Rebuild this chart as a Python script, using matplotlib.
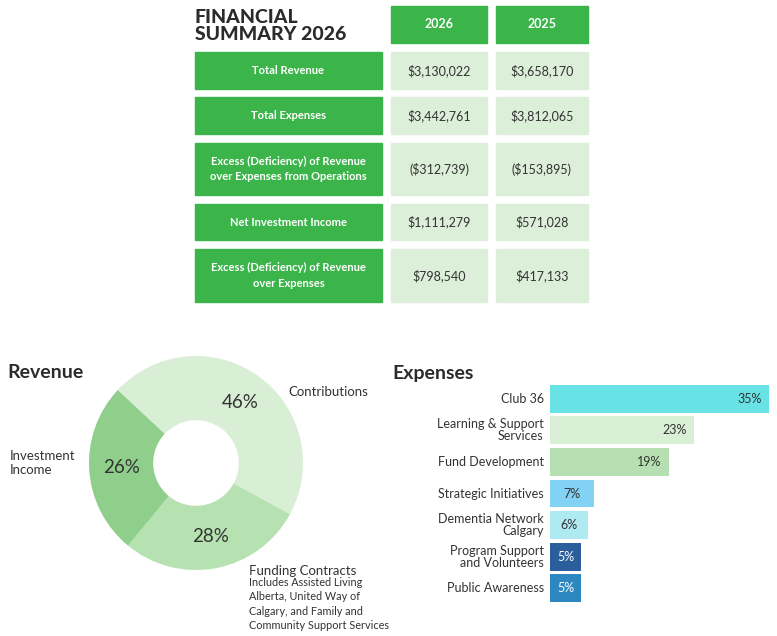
import matplotlib.pyplot as plt
import numpy as np
from matplotlib.patches import Rectangle

plt.rcParams['font.family'] = ['Lato', 'DejaVu Sans']

# data
years = ['2026', '2025']
row_labels = ['Total Revenue', 'Total Expenses',
              'Excess (Deficiency) of Revenue\nover Expenses from Operations',
              'Net Investment Income',
              'Excess (Deficiency) of Revenue\nover Expenses']
vals_2026 = ['$3,130,022', '$3,442,761', '($312,739)', '$1,111,279', '$798,540']
vals_2025 = ['$3,658,170', '$3,812,065', '($153,895)', '$571,028', '$417,133']

rev_labels = ['Contributions', 'Funding Contracts', 'Investment\nIncome']
rev_values = [46, 28, 26]
rev_colors = ['#d9efd5', '#b6e1b0', '#90cf8b']

exp_labels = ['Club 36', 'Learning & Support\nServices', 'Fund Development',
              'Strategic Initiatives', 'Dementia Network\nCalgary',
              'Program Support\nand Volunteers', 'Public Awareness']
exp_values = [35, 23, 19, 7, 6, 5, 5]
exp_colors = ['#68e2e4', '#d9efd6', '#b6e0b1', '#82d2f6', '#afe9f1', '#2b5e9c', '#2d87c0']
exp_text = ['#333333'] * 5 + ['white', 'white']

W, H = 777, 636
fig = plt.figure(figsize=(W / 100, H / 100), dpi=100)
green = '#3bb54a'
pale = '#dcefd9'

# table in pixel coordinates
tab = fig.add_axes([0, 0, 1, 1])
tab.set_xlim(0, W)
tab.set_ylim(H, 0)
tab.axis('off')
cols = [(195, 382), (391, 487), (496, 588)]
rows = [(52, 89), (97, 134), (143, 195), (204, 240), (249, 302)]
tab.text(195, 26, 'FINANCIAL\nSUMMARY 2026', fontsize=14, fontweight='black',
         color='#2b2b2b', va='center', ha='left', linespacing=1.0)
for (x0, x1), yr in zip(cols[1:], years):
    tab.add_patch(Rectangle((x0, 6), x1 - x0, 37, color=green))
    tab.text((x0 + x1) / 2, 24.5, yr, color='white', fontsize=9,
             fontweight='bold', ha='center', va='center')
for (y0, y1), lab, a, b in zip(rows, row_labels, vals_2026, vals_2025):
    yc = (y0 + y1) / 2
    tab.add_patch(Rectangle((cols[0][0], y0), cols[0][1] - cols[0][0], y1 - y0, color=green))
    tab.text((cols[0][0] + cols[0][1]) / 2, yc, lab, color='white', fontsize=8,
             fontweight='bold', ha='center', va='center', linespacing=1.45)
    for (x0, x1), v in zip(cols[1:], [a, b]):
        tab.add_patch(Rectangle((x0, y0), x1 - x0, y1 - y0, color=pale))
        tab.text((x0 + x1) / 2, yc, v, color='#333333', fontsize=9,
                 ha='center', va='center')

tab.text(7, 373, 'Revenue', fontsize=14, fontweight='bold', color='#2b2b2b', va='center')
tab.text(392, 373, 'Expenses', fontsize=14, fontweight='bold', color='#2b2b2b', va='center')

# donut
cx, cy, r = 196, 463, 107
pie = fig.add_axes([(cx - r) / W, 1 - (cy + r) / H, 2 * r / W, 2 * r / H])
wedges, _ = pie.pie(rev_values, colors=rev_colors, startangle=137, counterclock=False,
                    radius=1.0, wedgeprops=dict(width=0.6, edgecolor='none'))
pie.set_xlim(-1, 1)
pie.set_ylim(-1, 1)
pie.set_aspect('equal')
for w, v in zip(wedges, rev_values):
    ang = np.deg2rad((w.theta1 + w.theta2) / 2)
    pie.text(0.7 * np.cos(ang), 0.7 * np.sin(ang), f'{v}%', ha='center', va='center',
             fontsize=13.5, color='#333333')
tab.text(288, 392, 'Contributions', fontsize=9.5, color='#333333', va='center')
tab.text(249, 571, 'Funding Contracts', fontsize=9.5, color='#333333', va='center')
tab.text(249, 604, 'Includes Assisted Living\nAlberta, United Way of\nCalgary, and Family and\nCommunity Support Services',
         fontsize=7.8, color='#333333', va='center', linespacing=1.4)
tab.text(10, 463, 'Investment\nIncome', fontsize=9.5, color='#333333', va='center')

# bars
bx = fig.add_axes([550 / W, 1 - 604 / H, 219 / W, 221 / H])
ypos = list(range(len(exp_values)))
bx.barh(ypos, exp_values, height=0.88, color=exp_colors)
bx.set_xlim(0, 35)
bx.set_ylim(6.5, -0.5)
bx.axis('off')
for y, v, lab, tc in zip(ypos, exp_values, exp_labels, exp_text):
    bx.text(v - 1.2 if v > 10 else v / 2, y, f'{v}%', ha='right' if v > 10 else 'center',
            va='center', fontsize=9, color=tc)
    bx.text(-1, y, lab, ha='right', va='center', fontsize=9, color='#333333',
            linespacing=1.0, multialignment='right')

fig.savefig('out.png', dpi=100)
